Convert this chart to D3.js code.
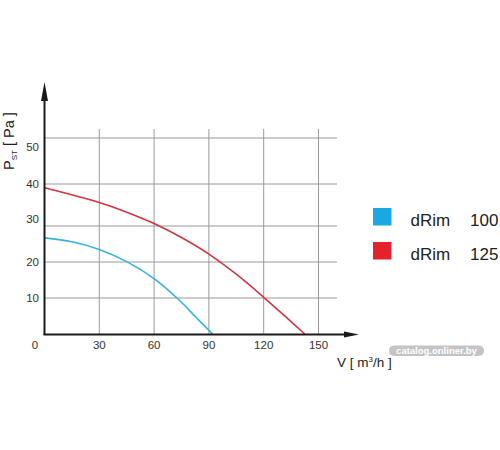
<!DOCTYPE html>
<html><head><meta charset="utf-8">
<script src="https://cdn.jsdelivr.net/npm/d3@7"></script>
<style>body{margin:0;background:#fff}svg{display:block}text{font-family:"Liberation Sans",Arial,sans-serif}</style>
</head><body><svg id="c" width="500" height="450"></svg>
<script>
const xTicks = [30, 60, 90, 120, 150];
const yTicks = [10, 20, 30, 40, 50];
const seriesNames = ["dRim", "dRim"];
const seriesSizes = ["100", "125"];
const seriesColors = ["#33b4d8", "#d2343f"];
const legendColors = ["#1aa8e2", "#e4222b"];
const blueX = [0, 15, 30, 45, 60, 74, 83, 92];
const blueY = [26.7, 25.6, 23.5, 20.1, 15.4, 9.3, 4.6, 0];
const redX = [0, 30, 45, 60, 75, 90, 105, 120, 132, 142.5];
const redY = [39.1, 35.6, 33.3, 30.6, 26.8, 22.2, 16.6, 10.2, 4.8, 0];

const svg = d3.select("#c");
const x = d3.scaleLinear().domain([0, 150]).range([44.5, 318.5]);
const y = d3.scaleLinear().domain([0, 10, 20, 30, 40, 50]).range([334, 298, 262, 226, 184, 138]);
const yLab = d3.scaleLinear().domain([0, 10, 20, 30, 40, 50]).range([334, 298, 262, 219, 184, 147]);

// grid
const g = svg.append("g");
g.selectAll("line.v").data(xTicks).join("line")
  .attr("x1", d => x(d)).attr("x2", d => x(d)).attr("y1", 129).attr("y2", 334)
  .attr("stroke", "#9a9a9a").attr("stroke-width", 1);
g.selectAll("line.h").data(yTicks).join("line")
  .attr("x1", 44).attr("x2", 337).attr("y1", d => y(d)).attr("y2", d => y(d))
  .attr("stroke", "#9a9a9a").attr("stroke-width", 1);

// curves
const line = d3.line().x(d => x(d[0])).y(d => y(d[1])).curve(d3.curveCatmullRom.alpha(0.5));
[[blueX, blueY], [redX, redY]].forEach((s, i) => {
  svg.append("path").datum(s[0].map((v, j) => [v, s[1][j]]))
    .attr("d", line).attr("fill", "none").attr("stroke", seriesColors[i]).attr("stroke-width", 1.6);
});

// axes
svg.append("line").attr("x1", 44.5).attr("x2", 44.5).attr("y1", 335).attr("y2", 96)
  .attr("stroke", "#1a1a1a").attr("stroke-width", 2);
svg.append("line").attr("x1", 43.5).attr("x2", 348).attr("y1", 334.5).attr("y2", 334.5)
  .attr("stroke", "#1a1a1a").attr("stroke-width", 2);
svg.append("path").attr("d", "M44.5,82 L48,101 L41,101 Z").attr("fill", "#1a1a1a");
svg.append("path").attr("d", "M359,334.5 L344,331.5 L344,337.5 Z").attr("fill", "#1a1a1a");

// tick labels
svg.selectAll("text.yt").data(yTicks).join("text")
  .attr("x", 39).attr("y", d => yLab(d) + 4).attr("text-anchor", "end")
  .attr("font-size", 11.5).attr("fill", "#333").text(d => d);
svg.append("text").attr("x", 35).attr("y", 348.5).attr("text-anchor", "middle")
  .attr("font-size", 11.5).attr("fill", "#333").text("0");
svg.selectAll("text.xt").data(xTicks).join("text")
  .attr("x", d => x(d)).attr("y", 349).attr("text-anchor", "middle")
  .attr("font-size", 11.5).attr("fill", "#333").text(d => d);

// axis titles
const yt = svg.append("text").attr("transform", "translate(13.5,170) rotate(-90)")
  .attr("font-size", 14.5).attr("fill", "#222");
yt.append("tspan").text("P");
yt.append("tspan").attr("font-size", 8).attr("dy", 3).text("ST");
yt.append("tspan").attr("dy", -3).text(" [ Pa ]");
const xt = svg.append("text").attr("x", 337).attr("y", 366.5).attr("font-size", 13.5).attr("fill", "#222");
xt.append("tspan").text("V [ m");
xt.append("tspan").attr("font-size", 8).attr("dy", -5).text("3");
xt.append("tspan").attr("dy", 5).text("/h ]");

// legend
seriesNames.forEach((n, i) => {
  const yy = 208 + i * 34;
  svg.append("rect").attr("x", 373).attr("y", yy).attr("width", 18.5).attr("height", 17.5)
    .attr("fill", legendColors[i]);
  svg.append("text").attr("x", 410.5).attr("y", yy + 17.5).attr("font-size", 17).attr("fill", "#222").text(n);
  svg.append("text").attr("x", 470).attr("y", yy + 17.5).attr("font-size", 17).attr("fill", "#222").text(seriesSizes[i]);
});

// watermark
svg.append("rect").attr("x", 389).attr("y", 345.5).attr("width", 95).attr("height", 10.5).attr("rx", 5)
  .attr("fill", "#c4c4c4");
svg.append("text").attr("x", 436.5).attr("y", 354).attr("text-anchor", "middle").attr("font-size", 9.5)
  .attr("font-weight", "bold").attr("fill", "#fff").text("catalog.onliner.by");
</script></body></html>
